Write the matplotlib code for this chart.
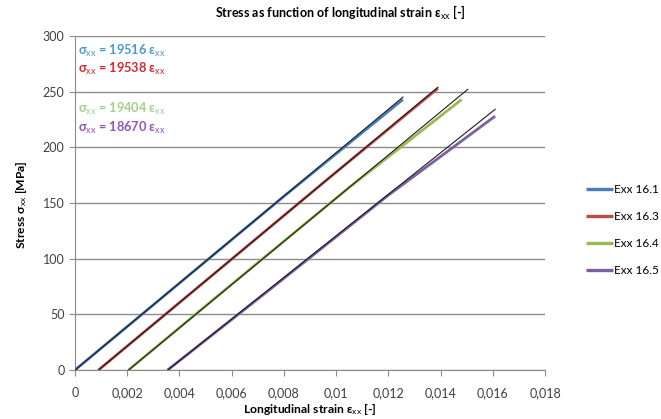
import matplotlib
matplotlib.use("Agg")
import matplotlib.pyplot as plt
import numpy as np

plt.rcParams["font.family"] = ["Lato", "DejaVu Sans"]
plt.rcParams["mathtext.fontset"] = "custom"
plt.rcParams["mathtext.rm"] = "Lato"
plt.rcParams["mathtext.it"] = "Lato:italic"
plt.rcParams["mathtext.bf"] = "Lato:bold"

# Measured stress-strain curves (strain [-], stress [MPa])
series_names = ["Exx 16.1", "Exx 16.3", "Exx 16.4", "Exx 16.5"]
strain_161 = [0.0, 0.0040, 0.0080, 0.01256]
stress_161 = [0.0, 78.0, 156.0, 243.0]
strain_163 = [0.0009, 0.0050, 0.0095, 0.0139]
stress_163 = [0.0, 80.0, 168.0, 253.0]
strain_164 = [0.00205, 0.0060, 0.0105, 0.01481]
stress_164 = [0.0, 77.0, 164.0, 243.0]
strain_165 = [0.00355, 0.0075, 0.0120, 0.01609]
stress_165 = [0.0, 73.0, 157.0, 228.0]

# Linear fits: modulus [MPa], strain offset, end strain of the fitted line
fit_moduli = [19516, 19538, 19404, 18670]
fit_offsets = [0.0, 0.0009, 0.00205, 0.00355]
fit_ends = [0.01256, 0.0139, 0.01504, 0.01609]

x_ticks = [0, 0.002, 0.004, 0.006, 0.008, 0.01, 0.012, 0.014, 0.016, 0.018]
x_tick_labels = ["0", "0,002", "0,004", "0,006", "0,008", "0,01", "0,012",
                 "0,014", "0,016", "0,018"]
y_ticks = [0, 50, 100, 150, 200, 250, 300]

line_colors = ["#4A7EBB", "#BE4B48", "#98B954", "#7D60A0"]
eq_colors = ["#4A9AD6", "#D8262E", "#A6D08A", "#9652BE"]

strains = [strain_161, strain_163, strain_164, strain_165]
stresses = [stress_161, stress_163, stress_164, stress_165]

fig = plt.figure(figsize=(6.61, 4.19), dpi=100)
ax = fig.add_axes([75 / 661, 49 / 419, 470 / 661, 334 / 419])

for s, st, c, name in zip(strains, stresses, line_colors, series_names):
    ax.plot(s, st, color=c, lw=2.0, solid_capstyle="butt", label=name, zorder=3)

for E, x0, x1 in zip(fit_moduli, fit_offsets, fit_ends):
    xs = np.array([x0, x1])
    ax.plot(xs, E * (xs - x0), color="#1c1c1c", lw=0.8, zorder=4)

ax.set_xlim(0, 0.018)
ax.set_ylim(0, 300)
ax.set_xticks(x_ticks)
ax.set_xticklabels(x_tick_labels)
ax.set_yticks(y_ticks)
ax.yaxis.grid(True, color="#8c8c8c", lw=1.0)
ax.set_axisbelow(True)
for side in ("top", "right"):
    ax.spines[side].set_visible(False)
for side in ("left", "bottom"):
    ax.spines[side].set_color("#8c8c8c")
ax.tick_params(axis="both", direction="out", length=4, color="#8c8c8c",
               labelsize=9, labelcolor="#404040")
ax.tick_params(axis="x", pad=8)

sub = r"$_{\mathrm{xx}}$"
eq_y = [50.7, 69, 109, 128]
for E, c, yp in zip(fit_moduli, eq_colors, eq_y):
    fig.text(78 / 661, 1 - yp / 419, f"σ{sub} = {E} ε{sub}", color=c,
             fontsize=9.2, fontweight="bold", va="center", ha="left")

fig.text(340 / 661, 1 - 13 / 419, f"Stress as function of longitudinal strain ε{sub} [-]",
         ha="center", va="center", fontsize=9, fontweight="bold")
fig.text(310 / 661, 1 - 409 / 419, f"Longitudinal strain ε{sub} [-]",
         ha="center", va="center", fontsize=8.7, fontweight="bold")
fig.text(22 / 661, 1 - 205 / 419, f"Stress σ{sub} [MPa]", rotation=90,
         ha="center", va="center", fontsize=8.7, fontweight="bold")

leg = ax.legend(loc="center left", bbox_to_anchor=(580 / 661, 1 - 230 / 419),
                bbox_transform=fig.transFigure, frameon=False, fontsize=8.5,
                handlelength=2.3, handletextpad=0.1, labelspacing=1.35,
                borderpad=0)
for h in leg.get_lines():
    h.set_linewidth(2.4)

fig.savefig("out.png", dpi=100)
